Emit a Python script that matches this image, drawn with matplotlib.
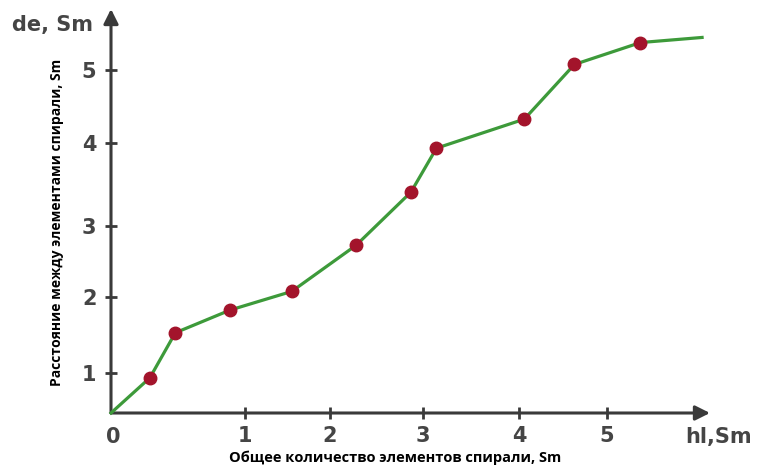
import numpy as np
import matplotlib
matplotlib.use("Agg")
import matplotlib.pyplot as plt

# values (in the chart's own tick units)
hl = [0, 0.29, 0.48, 0.89, 1.55, 2.28, 2.87, 3.14, 4.06, 4.63, 5.38, 6.08]
de = [0, 0.88, 1.53, 1.83, 2.08, 2.73, 3.41, 3.94, 4.33, 5.08, 5.38, 5.45]
tick_labels = ["0", "1", "2", "3", "4", "5"]

# the drawing has uneven tick spacing, so the scale is piecewise linear
x_tick_spacing = [0, 134, 219, 312, 408, 496]
y_tick_spacing = [0, 40, 116, 187, 270, 343]


def piecewise(pos):
    pos = np.asarray(pos, float)
    vals = np.arange(len(pos), dtype=float)
    slope = pos[-1] - pos[-2]

    def fwd(v):
        v = np.asarray(v, float)
        return np.where(v <= vals[-1], np.interp(v, vals, pos),
                        pos[-1] + (v - vals[-1]) * slope)

    def inv(p):
        p = np.asarray(p, float)
        return np.where(p <= pos[-1], np.interp(p, pos, vals),
                        vals[-1] + (p - pos[-1]) / slope)

    return fwd, inv


plt.rcParams['font.family'] = ['DejaVu Sans']

fig = plt.figure(figsize=(7.57, 4.68), dpi=100)
ax = fig.add_axes([111 / 757, 55 / 468, 599 / 757, 404 / 468])

ax.set_xscale('function', functions=piecewise(x_tick_spacing))
ax.set_yscale('function', functions=piecewise(y_tick_spacing))
ax.set_xlim(0, 6.17)
ax.set_ylim(0, 5.84)

for s in ax.spines.values():
    s.set_visible(False)

axis_col = '#3a3a3a'
ax.annotate('', xy=(1, 0), xytext=(0, 0), xycoords='axes fraction',
            arrowprops=dict(arrowstyle='-|>', color=axis_col, lw=2.2,
                            mutation_scale=22, shrinkA=0, shrinkB=0))
ax.annotate('', xy=(0, 1), xytext=(0, 0), xycoords='axes fraction',
            arrowprops=dict(arrowstyle='-|>', color=axis_col, lw=2.2,
                            mutation_scale=22, shrinkA=0, shrinkB=0))

ax.plot(hl, de, color='#3d9a3a', lw=2.3, marker='o', markersize=9,
        markerfacecolor='#a3142b', markeredgecolor='#a3142b',
        markevery=list(range(1, len(hl) - 1)), clip_on=False, zorder=3)

lab_col = '#454545'
ax.set_xticks(range(1, 6))
ax.set_xticklabels(tick_labels[1:])
ax.set_yticks(range(1, 6))
ax.set_yticklabels(tick_labels[1:])
ax.tick_params(direction='inout', length=9, width=2, color=axis_col,
               labelcolor=lab_col, labelsize=15)
ax.tick_params(axis='x', pad=5)
ax.tick_params(axis='y', pad=6)
for t in ax.get_xticklabels() + ax.get_yticklabels():
    t.set_fontweight('bold')

fig.text(113 / 757, 1 - 437 / 468, "0", ha='center', va='center',
         fontsize=15, fontweight='bold', color=lab_col)
fig.text(12 / 757, 1 - 25 / 468, "de, Sm", ha='left', va='center',
         fontsize=15, fontweight='bold', color=lab_col)
fig.text(752 / 757, 1 - 437 / 468, "hl,Sm", ha='right', va='center',
         fontsize=15, fontweight='bold', color=lab_col)

fig.text(395 / 757, 1 - 458 / 468, "Общее количество элементов спирали, Sm",
         ha='center', va='center', fontsize=10.5, fontweight='bold',
         family=['Open Sans', 'DejaVu Sans'], color='black')
fig.text(57 / 757, 1 - 222 / 468, "Расстояние между элементами спирали, Sm",
         ha='center', va='center', rotation=90, fontsize=10,
         fontweight='bold', family=['Open Sans', 'DejaVu Sans'], color='black')

fig.savefig('out.png', dpi=100, facecolor='white')
